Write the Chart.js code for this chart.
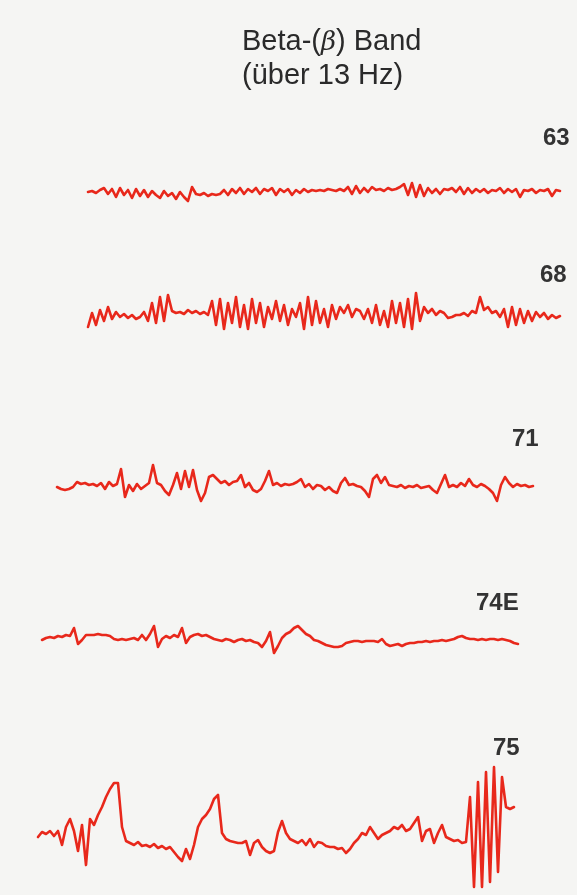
<!DOCTYPE html>
<html>
<head>
    <title>Beta Band</title>
    <script src="https://cdn.jsdelivr.net/npm/chart.js"></script>
    <style>
        body {
            margin: 0;
            background: #fff;
            font-family: "Liberation Sans", Arial, sans-serif;
        }
        #wrap {
            position: relative;
            width: 583px;
            height: 895px;
            background: #f5f5f3;
        }
        #wrap canvas { position: absolute; left: 0; top: 0; }
        .edge {
            position: absolute;
            right: 0; top: 0;
            width: 6px; height: 895px;
            background: #fff;
        }
        .title {
            position: absolute;
            left: 242px;
            top: 24px;
            font-size: 29px;
            line-height: 33px;
            color: #2a2a2a;
            white-space: nowrap;
        }
        .title i { font-family: "DejaVu Serif", serif; font-size: 26px; }
        .lbl {
            position: absolute;
            font-size: 24px;
            line-height: 24px;
            font-weight: bold;
            color: #333;
        }
    </style>
</head>
<body>
    <div id="wrap">
        <canvas id="eeg" width="583" height="895"></canvas>
        <div class="edge"></div>
        <div class="title">Beta-(<i>β</i>) Band<br>(über 13 Hz)</div>
        <div class="lbl" style="left:543px; top:125px;">63</div>
        <div class="lbl" style="left:540px; top:262px;">68</div>
        <div class="lbl" style="left:512px; top:426px;">71</div>
        <div class="lbl" style="left:476px; top:590px;">74E</div>
        <div class="lbl" style="left:493px; top:735px;">75</div>
    </div>

    <script>
        // amplitude samples (up = positive), one every 4 time units
        const beta63 = [
            0, 1, -1, 2, 4,
            -2, 3, -5, 4, -3, 2, -6,
            3, -4, 2, -5, 1, -3,
            -6, 1, -4, -1, -7, 0, -5, -9,
            5, -2, -3, -1, -4, -2, -3, -2,
            2, -3, 3, -1, 4, -2, 3, 0,
            4, -2, 3, 1, 4, -3, 3, 0,
            3, -3, 2, -1, 3, 0, 2, 1,
            2, 1, 3, 2, 1, 3, 1,
            5, -2, 6, -1, 4, 0, 5, 2,
            3, 1, 4, 2, 3, 5,
            8, -3, 9, -5, 7, -4, 4,
            -1, 3, -2, 3,
            2, 4, 0, 5, -2, 4, -1, 3,
            0, 3, -1, 2, 1, 4, -1, 3,
            0, 3, -5, 2, 1, 3, -1, 2,
            1, 3, -4, 2, 1
        ];
        const beta68 = [
            -12, 2, -10, 5, -6, 8, -4,
            3, -2, 1, -3, 0, -4, -2, 3, -6,
            12, -8, 18, -6, 20,
            4, 2, 3, 1, 5, 2, 4, 1, 3, 0,
            14, -10, 16, -14, 12, -8, 18, -12,
            10, -14, 16, -8, 12, -12, 8, -4,
            14, -6, 10, -10, 6, -2, 12, -14,
            18, -10, 14, -8, 6, -12, 10, -4,
            8, 2, 10, -2, 6, 4,
            -4, 6, -8, 10, -10, 4, -12, 14,
            -8, 12, -12, 16, -14, 22, -6, 8,
            2, 6, 0, 4, 2, -3, -2, 0,
            0, 2, -1, 4, 2, 18,
            5, 8, 2, 4, -2, 6, -12,
            8, -10, 6, -8, 4, -6, 3, -2,
            2, -4, 0, -3, -1
        ];
        const beta71 = [
            0, -2, -3, -2, 0,
            5, 3, 4, 2, 3, 1,
            4, -2, 5, 1, 3,
            18, -10, 2, -4,
            3, -2, 1, 4,
            22, 4, 2, -4, -8, 2,
            14, -2, 16, 0, 17, -3,
            -14, -6, 10, 12,
            8, 4, 6, 2, 5, 6,
            12, 0, 4, -3, -5, -2,
            6, 16, 2, 4, 1, 3, 2, 3,
            5, 8, 0, 3, -2, 2, 1, -3,
            0, -4, -6, 4, 9, 2,
            3, 1, 0, -4, -10,
            8, 12, 4, 10, 2,
            1, 0, 2, -1, 1, 0, 2, -1, 0,
            1, -3, -6, 3, 12, 0,
            2, 0, 4, 1, 8, 2, 0,
            3, 1, -2, -6, -14, 2,
            10, 4, 0, 3, 1, 2, 0, 1
        ];
        const beta74E = [
            -2, 0, 1, 0, 2, 1, 3,
            2, 10, -6, -2,
            3, 3, 3, 4, 3, 3, 2,
            -1, -2, -1, -2, -1, 0, -2, 3, -2,
            4, 12, -9, -1,
            2, 0, 3, 1,
            10, -5, 1,
            3, 4, 2, 3, 1, -1,
            -2, -3, -1, -2, -4, -2,
            -1, -3, -2, -4, -5, -9, -3,
            6, -15, -8, 0,
            4, 6, 10, 12,
            8, 4, 2, -2,
            -3, -5, -7, -8, -9, -9, -8, -5,
            -4, -3, -3, -4, -3, -3, -3, -4,
            -1, -6, -8, -7, -6, -8, -6, -5,
            -5, -4, -4, -3, -4, -3, -3, -2, -3, -2, -1,
            1, 2, 0, -1,
            -1, -2, -1, -2, -1, -1, -2, -1, -2, -3, -5, -6
        ];
        const beta75 = [
            0, 5, 3, 6, 1, 6, -8, 10, 18, 6,
            -14, 12, -28, 18, 12, 22, 30, 40, 48, 54,
            54, 10, -4, -6, -8, -5, -9, -8, -10, -7,
            -11, -9, -12, -10, -15, -20, -24, -12, -22, -8,
            10, 18, 22, 28, 38, 42, 4, -2, -4, -5,
            -6, -6, -4, -18, -6, -3, -10, -14, -16, -14,
            5, 16, 4, -2, -4, -6, -3, -8, -2, -10,
            -5, -6, -9, -10, -10, -12, -11, -16, -12, -6,
            -2, 4, 2, 10, 4, -2, 2, 4, 6, 10,
            8, 12, 6, 8, 14, 20, -4, 6, 8, -6,
            4, 12, 0, -2, -4, -3, -6, -5, 40, -50,
            55, -50, 65, -45, 70, -35, 60, 30, 28, 30
        ];

        const series = [beta63, beta68, beta71, beta74E, beta75];
        const startTimes = [88, 88, 57, 42, 38];
        const sampleStep = 4;

        // layout: where each trace sits on the page
        const baselines = [192, 315, 487, 638, 837];

        const datasets = series.map((vals, k) => ({
            data: vals.map((v, i) => ({ x: startTimes[k] + i * sampleStep, y: baselines[k] - v })),
            borderColor: '#e8281b',
            borderWidth: 2.6,
            pointRadius: 0,
            tension: 0,
            borderJoinStyle: 'round',
            borderCapStyle: 'round'
        }));

        new Chart(document.getElementById('eeg'), {
            type: 'line',
            data: { datasets: datasets },
            options: {
                responsive: false,
                animation: false,
                layout: { padding: 0 },
                plugins: { legend: { display: false }, tooltip: { enabled: false } },
                scales: {
                    x: { type: 'linear', min: 0, max: 583, display: false },
                    y: { min: 0, max: 895, reverse: true, display: false }
                }
            }
        });
    </script>
</body>
</html>
